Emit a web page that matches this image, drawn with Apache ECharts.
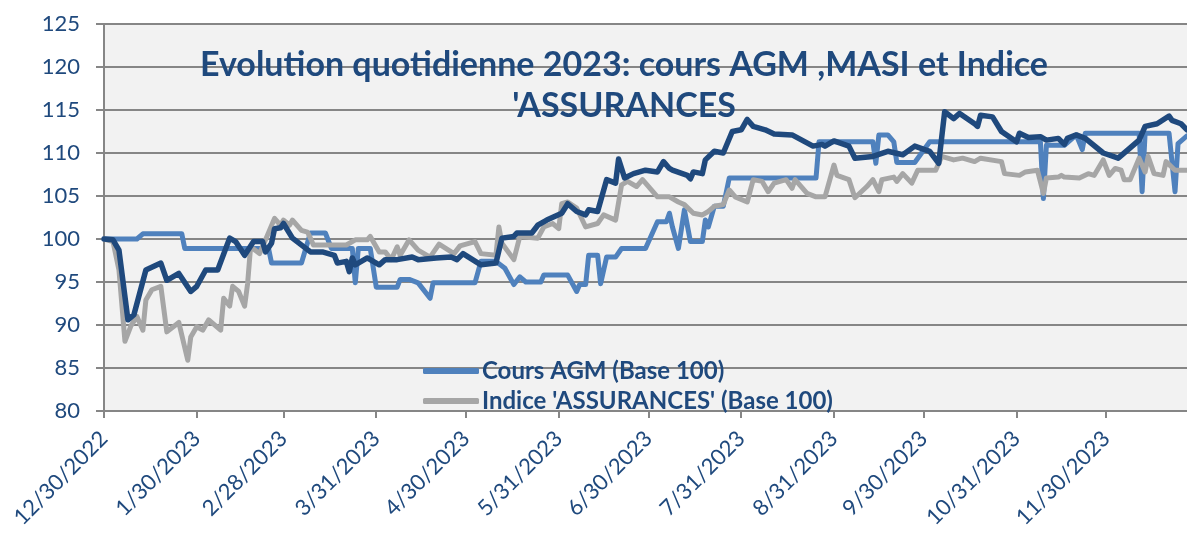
<!DOCTYPE html>
<html>
<head>
<meta charset="utf-8">
<script src="https://cdn.jsdelivr.net/npm/echarts@6/dist/echarts.min.js"></script>
<style>
  html, body { margin: 0; padding: 0; background: #ffffff; }
  #chart { width: 1187px; height: 535px; }
</style>
</head>
<body>
<div id="chart"></div>
<script>
// jours depuis le 30/12/2022 -> libellés de l'axe des dates
const tickDays = [0, 31, 60, 91, 121, 152, 182, 213, 244, 274, 305, 335];
const tickLabels = ['12/30/2022', '1/30/2023', '2/28/2023', '3/31/2023', '4/30/2023', '5/31/2023',
  '6/30/2023', '7/31/2023', '8/31/2023', '9/30/2023', '10/31/2023', '11/30/2023'];
const yTicks = [80, 85, 90, 95, 100, 105, 110, 115, 120, 125];

// Cours AGM (Base 100) : [jour, valeur]
const agmPoints = [
  [0, 100.0], [11, 100.0], [13, 100.6], [26, 100.6], [27, 98.9], [55, 98.9], [56, 97.2], [66, 97.2],
  [69, 100.7], [74, 100.7], [76, 98.9], [83, 98.9], [84, 94.9], [85, 98.9], [89, 98.9], [91, 94.4],
  [98, 94.4], [99, 95.3], [102, 95.3], [105, 94.9], [109, 93.1], [110, 94.9], [124, 94.9], [126, 97.4],
  [131, 97.4], [134, 96.6], [137, 94.7], [139, 95.6], [141, 95.0], [146, 95.0], [147, 95.8], [155, 95.8],
  [158, 93.9], [159, 94.7], [161, 94.7], [162, 98.1], [165, 98.1], [166, 94.8], [168, 97.9], [171, 97.9],
  [173, 98.9], [181, 98.9], [185, 102.0], [188, 102.0], [189, 103.0], [190, 101.4], [192, 98.9], [194, 103.4],
  [196, 99.7], [200, 99.7], [201, 102.2], [202, 101.4], [204, 103.8], [207, 103.8], [209, 107.1], [238, 107.1],
  [239, 111.3], [257, 111.3], [258, 108.8], [259, 112.1], [262, 112.1], [264, 111.3], [265, 108.9], [271, 108.9],
  [276, 111.3], [313, 111.3], [314, 104.7], [315, 110.9], [321, 110.9], [325, 112.1], [327, 110.4], [328, 112.3],
  [346, 112.3], [347, 105.5], [348, 112.3], [356, 112.3], [358, 105.5], [359, 111.1], [362, 112.0]
];

// MASI (Base 100)
const masiPoints = [
  [0, 100.0], [3, 99.9], [5, 98.7], [8, 90.6], [10, 91.2], [14, 96.4], [19, 97.2], [21, 95.2],
  [25, 96.0], [29, 93.9], [31, 94.5], [34, 96.4], [38, 96.4], [42, 100.1], [44, 99.7], [47, 98.1],
  [50, 99.7], [53, 99.7], [54, 98.5], [56, 99.5], [57, 101.2], [59, 101.3], [60, 101.8], [63, 100.1],
  [69, 98.5], [73, 98.5], [77, 98.1], [78, 97.2], [81, 97.4], [82, 96.2], [83, 97.8], [84, 97.0],
  [88, 97.8], [92, 97.0], [94, 97.6], [98, 97.6], [103, 97.9], [105, 97.6], [111, 97.8], [116, 97.9],
  [118, 97.6], [120, 98.3], [126, 97.0], [131, 97.2], [133, 100.1], [137, 100.3], [138, 100.7], [143, 100.7],
  [145, 101.6], [148, 102.2], [153, 103.0], [155, 104.1], [158, 103.2], [161, 102.8], [162, 103.4], [165, 103.2],
  [168, 106.9], [171, 106.5], [172, 109.3], [174, 107.1], [177, 107.6], [181, 108.0], [185, 107.8], [187, 109.0],
  [189, 108.2], [190, 108.0], [195, 107.4], [196, 107.0], [197, 107.8], [200, 107.6], [201, 109.2], [204, 110.2],
  [207, 110.0], [210, 112.5], [213, 112.7], [215, 113.9], [217, 113.1], [221, 112.7], [224, 112.2], [230, 112.1],
  [237, 110.8], [240, 111.0], [241, 110.8], [244, 111.4], [249, 110.8], [251, 109.4], [257, 109.6], [262, 110.2],
  [267, 109.8], [271, 110.8], [276, 110.2], [279, 108.8], [281, 114.8], [284, 114.0], [286, 114.6], [291, 113.4],
  [292, 113.1], [293, 114.4], [297, 114.2], [300, 112.5], [305, 111.3], [306, 112.3], [309, 111.8], [313, 111.9],
  [315, 111.5], [319, 111.7], [321, 111.0], [322, 111.7], [325, 112.1], [328, 111.7], [334, 110.0], [339, 109.4],
  [343, 110.6], [346, 111.5], [348, 113.1], [352, 113.4], [356, 114.3], [357, 113.8], [360, 113.4], [362, 112.7]
];

// Indice 'ASSURANCES' (Base 100)
const assurPoints = [
  [0, 100.0], [3, 99.7], [5, 96.4], [7, 88.1], [9, 89.9], [11, 91.0], [13, 89.4], [14, 92.9],
  [16, 94.1], [19, 94.5], [21, 89.2], [25, 90.3], [28, 85.9], [29, 88.6], [31, 89.8], [33, 89.4],
  [35, 90.6], [39, 89.4], [40, 93.1], [42, 92.2], [43, 94.5], [45, 93.9], [47, 92.2], [48, 94.8],
  [49, 99.1], [52, 98.3], [54, 99.9], [57, 102.4], [59, 101.6], [60, 102.2], [62, 101.6], [63, 102.2],
  [66, 101.0], [68, 100.8], [69, 100.1], [70, 99.3], [81, 99.3], [84, 99.9], [88, 99.9], [89, 100.3],
  [92, 98.5], [94, 98.5], [96, 97.6], [98, 99.1], [99, 98.1], [102, 99.9], [105, 98.7], [109, 97.9],
  [112, 99.4], [117, 98.3], [119, 99.2], [124, 99.7], [126, 98.3], [131, 98.1], [132, 101.4], [133, 99.5],
  [137, 97.6], [139, 100.3], [145, 100.1], [147, 101.4], [150, 101.8], [152, 101.2], [153, 104.1], [155, 104.3],
  [158, 103.6], [161, 101.4], [165, 101.8], [167, 102.8], [171, 102.2], [173, 106.3], [175, 106.7], [178, 106.1],
  [180, 106.9], [185, 104.9], [189, 104.9], [192, 104.3], [194, 104.0], [197, 103.0], [200, 102.8], [202, 103.2],
  [204, 103.8], [207, 104.0], [209, 105.7], [211, 104.9], [215, 104.3], [217, 106.9], [220, 106.7], [222, 105.5],
  [224, 106.5], [228, 106.9], [230, 105.9], [231, 106.9], [235, 105.3], [238, 104.9], [241, 104.9], [244, 108.6],
  [245, 107.4], [249, 106.9], [251, 104.8], [255, 106.1], [257, 106.9], [259, 105.5], [260, 106.9], [264, 107.2],
  [265, 106.7], [267, 107.6], [270, 106.5], [272, 108.0], [278, 108.0], [280, 109.6], [284, 109.2], [287, 109.4],
  [291, 109.0], [293, 109.4], [300, 109.0], [301, 107.6], [306, 107.4], [308, 107.8], [312, 108.0], [314, 105.3],
  [315, 107.1], [319, 107.2], [320, 107.4], [321, 107.2], [326, 107.1], [329, 107.6], [331, 107.4], [334, 109.2],
  [336, 107.4], [338, 108.2], [340, 108.0], [341, 106.9], [343, 106.9], [346, 109.4], [348, 107.8], [349, 109.6],
  [351, 107.6], [354, 107.4], [355, 109.0], [358, 108.0], [362, 108.0]
];

const chart = echarts.init(document.getElementById('chart'));
const textBlue = '#1f497d';
const font = 'Lato, "Open Sans", sans-serif';

let option = {
  animation: false,
  backgroundColor: '#ffffff',
  textStyle: { fontFamily: font },
  title: {
    text: "Evolution quotidienne 2023: cours AGM ,MASI et Indice\n'ASSURANCES",
    left: 619,
    top: 40,
    textAlign: 'center',
    textStyle: {
      color: textBlue,
      fontSize: 34,
      fontWeight: 'bold',
      lineHeight: 41,
      fontFamily: font
    }
  },
  legend: {
    orient: 'vertical',
    left: 418,
    top: 354,
    itemWidth: 56,
    itemHeight: 6,
    itemGap: 6,
    icon: 'roundRect',
    textStyle: { color: textBlue, fontSize: 24, fontWeight: 'bold', fontFamily: font, padding: [0, 0, 0, -2] },
    data: ['Cours AGM (Base 100)', "Indice 'ASSURANCES' (Base 100)"]
  },
  grid: {
    left: 104,
    right: 0,
    top: 24,
    bottom: 124,
    show: true,
    backgroundColor: '#f2f2f2',
    borderWidth: 0,
    outerBoundsMode: 'none'
  },
  xAxis: {
    type: 'value',
    min: 0,
    max: 362,
    axisLine: { show: true, lineStyle: { color: '#868686', width: 2 } },
    axisTick: { show: true, customValues: tickDays, length: 7, lineStyle: { color: '#868686', width: 2 } },
    axisLabel: {
      customValues: tickDays,
      rotate: 45,
      margin: 24,
      color: textBlue,
      fontSize: 22,
      fontFamily: font,
      formatter: function (v) {
        const i = tickDays.indexOf(v);
        return i >= 0 ? tickLabels[i] : '';
      }
    },
    splitLine: { show: false }
  },
  yAxis: {
    type: 'value',
    min: yTicks[0],
    max: yTicks[yTicks.length - 1],
    interval: 5,
    axisLine: { show: true, lineStyle: { color: '#868686', width: 2 } },
    axisTick: { show: true, length: 8, lineStyle: { color: '#868686', width: 2 } },
    axisLabel: { color: textBlue, fontSize: 22, margin: 24, fontFamily: font },
    splitLine: { show: true, lineStyle: { color: '#868686', width: 2 } }
  },
  series: [
    {
      name: 'Cours AGM (Base 100)',
      type: 'line',
      data: agmPoints,
      showSymbol: false,
      symbol: 'none',
      color: '#4f81bd',
      lineStyle: { color: '#4f81bd', width: 5, cap: 'round', join: 'round' }
    },
    {
      name: "Indice 'ASSURANCES' (Base 100)",
      type: 'line',
      data: assurPoints,
      showSymbol: false,
      symbol: 'none',
      color: '#a6a6a6',
      lineStyle: { color: '#a6a6a6', width: 5, cap: 'round', join: 'round' }
    },
    {
      name: 'MASI (Base 100)',
      type: 'line',
      data: masiPoints,
      showSymbol: false,
      symbol: 'none',
      color: '#1f497d',
      lineStyle: { color: '#1f497d', width: 5.5, cap: 'round', join: 'round' }
    }
  ]
};
chart.setOption(option);
</script>
</body>
</html>
